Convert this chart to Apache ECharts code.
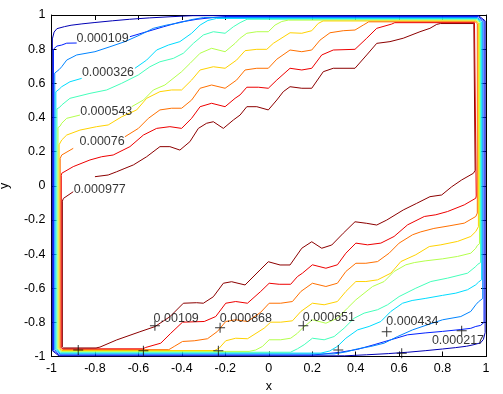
<!DOCTYPE html>
<html>
<head>
<meta charset="utf-8">
<script src="https://cdn.jsdelivr.net/npm/echarts@6/dist/echarts.min.js"></script>
<style>html,body{margin:0;padding:0;background:#fff}#c{width:503px;height:394px}</style>
</head>
<body>
<div id="c"></div>
<script>
// contour levels (outer -> inner), colours
const levelColors = ['#0000b4','#0020ff','#0084ff','#00dcff','#44ffbb','#b4ff4c','#ffd200','#ff7000','#ee0000','#8c0000'];
// distance of each contour from the square's border along the edges
const edgeOffsets = [0.004,0.009,0.015,0.020,0.025,0.030,0.035,0.040,0.045,0.050];
const cornerCuts  = [0.030,0.027,0.024,0.021,0.018,0.015,0.012,0.010,0.008,0.006];

// upper-left branches ('-' = gap left for an inline label)
const ul1 = [[-0.996,0.86],[-0.988,0.9],[-0.975,0.92],[-0.94,0.932],[-0.91,0.94],[-0.86,0.948],[-0.80,0.956],[-0.72,0.966],[-0.64,0.975],[-0.55,0.983],[-0.45,0.99],[-0.35,0.996]];
const ul2 = [[-0.991,0.80],[-0.975,0.818],[-0.953,0.824],[-0.93,0.835],[-0.884,0.836],'-',[-0.639,0.873],[-0.562,0.902],[-0.485,0.931],[-0.409,0.958],[-0.33,0.975],[-0.25,0.986],[-0.2,0.991]];
const ul3 = [[-0.985,0.66],[-0.965,0.68],[-0.953,0.697],[-0.930,0.736],[-0.884,0.766],[-0.800,0.785],[-0.731,0.814],[-0.662,0.844],[-0.593,0.883],[-0.531,0.922],[-0.470,0.941],[-0.409,0.955],[-0.36,0.972],[-0.30,0.985]];
const ul4 = [[-0.980,0.55],[-0.965,0.565],[-0.953,0.580],[-0.915,0.609],[-0.861,0.629],'-',[-0.616,0.688],[-0.562,0.736],[-0.516,0.795],[-0.462,0.824],[-0.409,0.844],[-0.355,0.893],[-0.316,0.941],[-0.28,0.968],[-0.24,0.980]];
const ul5 = [[-0.975,0.45],[-0.962,0.46],[-0.953,0.473],[-0.915,0.512],[-0.823,0.541],[-0.746,0.561],[-0.677,0.600],[-0.600,0.649],[-0.547,0.697],[-0.501,0.726],[-0.439,0.746],[-0.393,0.776],[-0.347,0.834],[-0.301,0.883],[-0.255,0.902],[-0.201,0.893],[-0.163,0.931],[-0.132,0.955],[-0.10,0.975]];
const ul6 = [[-0.970,0.34],[-0.96,0.35],[-0.953,0.366],[-0.930,0.395],[-0.869,0.414],'-',[-0.631,0.463],[-0.577,0.502],[-0.531,0.561],[-0.478,0.590],[-0.401,0.668],[-0.362,0.717],[-0.316,0.776],[-0.263,0.805],[-0.201,0.785],[-0.155,0.834],[-0.132,0.864],[-0.101,0.893],[-0.055,0.902],[-0.002,0.902],[0.029,0.941],[0.06,0.962],[0.09,0.970]];
const ul7 = [[-0.965,0.24],[-0.958,0.25],[-0.953,0.268],[-0.930,0.297],[-0.869,0.326],[-0.792,0.346],[-0.739,0.356],[-0.677,0.404],[-0.608,0.444],[-0.562,0.512],[-0.501,0.551],[-0.447,0.561],[-0.401,0.561],[-0.355,0.619],[-0.316,0.678],[-0.255,0.697],[-0.201,0.688],[-0.148,0.736],[-0.109,0.791],[-0.055,0.799],[-0.009,0.799],[0.021,0.834],[0.098,0.896],[0.152,0.893],[0.198,0.908],[0.228,0.951],[0.25,0.965]];
const ul8 = [[-0.960,0.16],[-0.953,0.180],[-0.900,0.219],'-',[-0.662,0.287],[-0.600,0.336],[-0.554,0.395],[-0.501,0.444],[-0.447,0.454],[-0.401,0.454],[-0.355,0.502],[-0.316,0.571],[-0.263,0.590],[-0.201,0.571],[-0.148,0.619],[-0.109,0.678],[-0.055,0.688],[-0.002,0.688],[0.037,0.741],[0.098,0.795],[0.152,0.785],[0.198,0.795],[0.236,0.853],[0.282,0.896],[0.343,0.908],[0.397,0.912],[0.435,0.941],[0.46,0.960]];
const ul9 = [[-0.955,0.06],[-0.953,0.073],[-0.900,0.112],[-0.823,0.151],[-0.769,0.170],[-0.716,0.180],[-0.639,0.229],[-0.577,0.297],[-0.516,0.336],[-0.455,0.346],[-0.401,0.336],[-0.355,0.395],[-0.316,0.463],[-0.263,0.483],[-0.201,0.463],[-0.155,0.512],[-0.132,0.532],[-0.101,0.577],[-0.048,0.577],[-0.002,0.571],[0.037,0.619],[0.098,0.688],[0.152,0.678],[0.198,0.688],[0.244,0.766],[0.297,0.795],[0.397,0.799],[0.451,0.864],[0.497,0.922],[0.566,0.947],[0.58,0.955]];
const ul10 = [[-0.950,-0.09],[-0.945,-0.074],[-0.900,-0.035],'-',[-0.800,0.053],[-0.739,0.063],[-0.700,0.082],[-0.662,0.102],[-0.623,0.122],[-0.562,0.170],[-0.501,0.229],[-0.455,0.229],[-0.409,0.209],[-0.363,0.258],[-0.324,0.336],[-0.286,0.366],[-0.255,0.375],[-0.209,0.336],[-0.163,0.385],[-0.132,0.414],[-0.101,0.463],[-0.055,0.463],[-0.002,0.444],[0.037,0.502],[0.067,0.551],[0.098,0.580],[0.152,0.571],[0.198,0.571],[0.251,0.668],[0.297,0.688],[0.397,0.688],[0.451,0.766],[0.497,0.834],[0.558,0.844],[0.619,0.864],[0.696,0.902],[0.742,0.922],[0.773,0.945],[0.79,0.950]];

// lower-right branches
const lr1 = [[0.996,-0.86],[0.988,-0.9],[0.975,-0.92],[0.94,-0.932],[0.91,-0.94],[0.86,-0.948],[0.80,-0.956],[0.72,-0.966],[0.64,-0.975],[0.55,-0.983],[0.45,-0.99],[0.35,-0.996]];
const lr2 = [[0.991,-0.80],[0.975,-0.818],[0.953,-0.824],[0.93,-0.835],[0.884,-0.842],[0.80,-0.853],[0.72,-0.862],[0.639,-0.873],[0.562,-0.902],[0.485,-0.931],[0.409,-0.958],[0.33,-0.975],[0.25,-0.986],[0.2,-0.991]];
const lr3 = [[0.985,-0.66],[0.965,-0.68],[0.953,-0.697],[0.930,-0.736],[0.884,-0.766],[0.800,-0.785],[0.731,-0.814],[0.662,-0.844],[0.593,-0.883],[0.531,-0.922],[0.470,-0.941],[0.409,-0.955],[0.36,-0.972],[0.30,-0.985]];
const lr4 = [[0.980,-0.55],[0.965,-0.565],[0.953,-0.580],[0.915,-0.609],[0.861,-0.629],[0.80,-0.642],[0.72,-0.66],[0.66,-0.672],[0.616,-0.688],[0.562,-0.736],[0.516,-0.795],[0.462,-0.824],[0.409,-0.844],[0.355,-0.893],[0.316,-0.941],[0.28,-0.968],[0.24,-0.980]];
const lr5 = [[0.975,-0.45],[0.962,-0.46],[0.953,-0.473],[0.915,-0.512],[0.823,-0.541],[0.746,-0.561],[0.677,-0.600],[0.600,-0.649],[0.547,-0.697],[0.501,-0.726],[0.439,-0.746],[0.393,-0.776],[0.347,-0.834],[0.301,-0.883],[0.255,-0.902],[0.201,-0.893],[0.163,-0.931],[0.132,-0.955],[0.10,-0.975]];
const lr6 = [[0.970,-0.34],[0.96,-0.35],[0.953,-0.366],[0.930,-0.395],[0.869,-0.414],[0.80,-0.428],[0.72,-0.44],[0.67,-0.45],[0.631,-0.463],[0.577,-0.502],[0.531,-0.561],[0.478,-0.590],[0.401,-0.668],[0.362,-0.717],[0.316,-0.776],[0.263,-0.805],[0.201,-0.785],[0.155,-0.834],[0.132,-0.864],[0.101,-0.893],[0.055,-0.902],[0.002,-0.902],[-0.029,-0.941],[-0.06,-0.962],[-0.09,-0.970]];
const lr7 = [[0.965,-0.24],[0.958,-0.25],[0.953,-0.268],[0.930,-0.297],[0.869,-0.326],[0.792,-0.346],[0.739,-0.356],[0.677,-0.404],[0.608,-0.444],[0.562,-0.512],[0.501,-0.551],[0.447,-0.561],[0.401,-0.561],[0.355,-0.619],[0.316,-0.678],[0.255,-0.697],[0.201,-0.688],[0.148,-0.736],[0.109,-0.791],[0.055,-0.799],[0.009,-0.799],[-0.021,-0.834],[-0.098,-0.896],[-0.152,-0.893],[-0.198,-0.908],[-0.228,-0.951],[-0.25,-0.965]];
const lr8 = [[0.960,-0.16],[0.953,-0.180],[0.900,-0.219],[0.83,-0.235],[0.76,-0.25],[0.70,-0.27],[0.662,-0.287],[0.600,-0.336],[0.554,-0.395],[0.501,-0.444],[0.447,-0.454],[0.401,-0.454],[0.355,-0.502],[0.316,-0.571],[0.263,-0.590],[0.201,-0.571],[0.148,-0.619],[0.109,-0.678],[0.055,-0.688],[0.002,-0.688],[-0.037,-0.741],[-0.098,-0.795],[-0.152,-0.785],[-0.198,-0.795],[-0.236,-0.853],[-0.282,-0.896],[-0.343,-0.908],[-0.397,-0.912],[-0.435,-0.941],[-0.46,-0.960]];
const lr9 = [[0.955,-0.06],[0.953,-0.073],[0.900,-0.112],[0.823,-0.151],[0.769,-0.170],[0.716,-0.180],[0.639,-0.229],[0.577,-0.297],[0.516,-0.336],[0.455,-0.346],[0.401,-0.336],[0.355,-0.395],[0.316,-0.463],[0.263,-0.483],[0.201,-0.463],[0.155,-0.512],[0.132,-0.532],[0.101,-0.577],[0.048,-0.577],[0.002,-0.571],[-0.037,-0.619],[-0.098,-0.688],[-0.152,-0.678],[-0.198,-0.688],[-0.244,-0.766],[-0.297,-0.795],[-0.397,-0.799],[-0.451,-0.864],[-0.497,-0.922],[-0.566,-0.947],[-0.58,-0.955]];
const lr10 = [[0.950,0.09],[0.942,0.073],[0.888,0.034],[0.842,-0.006],[0.796,-0.054],[0.742,-0.064],[0.681,-0.103],[0.619,-0.142],[0.543,-0.201],[0.497,-0.230],[0.451,-0.220],[0.397,-0.211],[0.343,-0.278],[0.290,-0.347],[0.244,-0.366],[0.198,-0.328],[0.152,-0.366],[0.098,-0.464],[0.052,-0.464],[-0.002,-0.445],[-0.040,-0.493],[-0.109,-0.581],[-0.171,-0.562],[-0.209,-0.571],[-0.255,-0.650],[-0.301,-0.688],[-0.332,-0.685],[-0.393,-0.688],[-0.455,-0.767],[-0.524,-0.825],[-0.593,-0.855],[-0.700,-0.903],[-0.777,-0.945],[-0.795,-0.950]];

const ulLines = [ul1,ul2,ul3,ul4,ul5,ul6,ul7,ul8,ul9,ul10];
const lrLines = [lr1,lr2,lr3,lr4,lr5,lr6,lr7,lr8,lr9,lr10];

// contour labels
const labelTexts = ['0.000109','0.000326','0.000543','0.00076','0.000977','0.00109','0.000868','0.000651','0.000434','0.000217'];
const labelX = [-0.765,-0.740,-0.748,-0.767,-0.778,-0.426,-0.105,0.277,0.661,0.871];
const labelY = [0.863,0.664,0.432,0.256,-0.025,-0.777,-0.777,-0.772,-0.796,-0.909];
// '+' label anchors
const plusX = [-0.524,-0.224,0.159,0.543,0.888,-0.877,-0.577,-0.232,0.320,0.612];
const plusY = [-0.820,-0.831,-0.820,-0.855,-0.849,-0.962,-0.966,-0.966,-0.962,-0.981];

const xTicks = {min:-1, max:1, step:0.2};
const yTicks = {min:-1, max:1, step:0.2};

function loopFor(k){
  const d = edgeOffsets[k], c = cornerCuts[k];
  const lo = -1 + d, hi = 1 - d;
  return [[lo, lo + c]].concat(ulLines[k], [[hi - c, hi], [hi, hi - c]], lrLines[k], [[lo + c, lo], [lo, lo + c]]);
}

const FONT = 'Liberation Sans, Arial, sans-serif';
const series = [];
for (let k = 0; k < levelColors.length; k++) {
  series.push({
    type:'line', data: loopFor(k), showSymbol:false, symbol:'none',
    lineStyle:{color:levelColors[k], width:1}, connectNulls:false,
    animation:false, silent:true, z:2
  });
}
series.push({
  type:'scatter', symbol:'path://M4.5,0h1v4.5h4.5v1h-4.5v4.5h-1v-4.5h-4.5v-1h4.5z', symbolSize:10,
  itemStyle:{color:'#000'}, data: plusX.map((x,i)=>[x, plusY[i]]), animation:false, silent:true, z:4
});
series.push({
  type:'scatter', symbolSize:0,
  data: labelTexts.map((t,i)=>({name:t, value:[labelX[i], labelY[i]]})),
  label:{show:true, position:'inside', formatter:'{b}', color:'#000', fontSize:12.5, fontFamily:FONT},
  animation:false, silent:true, z:5
});

function axisCommon(extra){
  return Object.assign({
    type:'value', splitLine:{show:false},
    axisLine:{show:true, onZero:false, lineStyle:{color:'#000', width:1}},
    axisTick:{show:true, inside:true, length:5, lineStyle:{color:'#000'}}
  }, extra);
}

const chart = echarts.init(document.getElementById('c'), null, {renderer:'canvas'});
chart.setOption({
  animation:false,
  backgroundColor:'#fff',
  grid:{left:51.5, right:17, top:15, bottom:37.5, containLabel:false, outerBoundsMode:'none'},
  xAxis:[
    axisCommon({min:xTicks.min, max:xTicks.max, interval:xTicks.step, position:'bottom',
      axisLabel:{color:'#000', fontSize:12.5, fontFamily:FONT, margin:6, showMinLabel:true, showMaxLabel:true, hideOverlap:false},
      name:'x', nameLocation:'middle', nameGap:24, nameTextStyle:{color:'#000', fontSize:12.5, fontFamily:FONT}}),
    axisCommon({min:xTicks.min, max:xTicks.max, interval:xTicks.step, position:'top', axisLabel:{show:false}})
  ],
  yAxis:[
    axisCommon({min:yTicks.min, max:yTicks.max, interval:yTicks.step, position:'left',
      axisLabel:{color:'#000', fontSize:12.5, fontFamily:FONT, margin:6, showMinLabel:true, showMaxLabel:true, hideOverlap:false},
      name:'y', nameLocation:'middle', nameGap:40, nameTextStyle:{color:'#000', fontSize:12.5, fontFamily:FONT}}),
    axisCommon({min:yTicks.min, max:yTicks.max, interval:yTicks.step, position:'right', axisLabel:{show:false}})
  ],
  series: series
});
</script>
</body>
</html>
